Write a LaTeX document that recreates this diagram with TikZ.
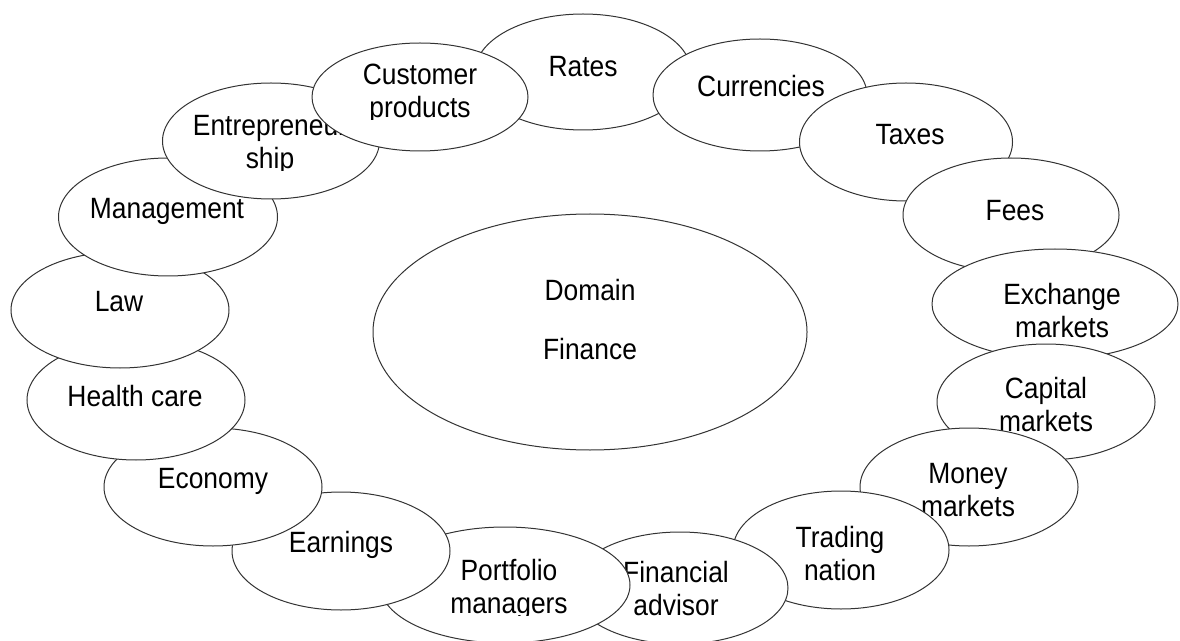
\documentclass[tikz,border=0pt]{standalone}
\usepackage{fontspec}
\setmainfont{Liberation Sans}[FakeStretch=0.9]
\usetikzlibrary{shapes.geometric}
\begin{document}
\begin{tikzpicture}[x=0.75pt,y=-0.75pt,
  oval/.style 2 args={ellipse, draw=black!80, line width=0.75pt, fill=white,
    inner sep=0pt, minimum width={#1*0.75pt}, minimum height={#2*0.75pt}},
  lbl/.style={align=center, inner sep=0pt, text=black,
    font=\fontsize{22pt}{24.75pt}\selectfont}]
\useasboundingbox (0,0) rectangle (1180,641);

% central topic
\node[oval={434}{236}] (domain) at (590,332) {};
\node[lbl] (domain-t) at (590,320) {Domain\\[19.5pt]Finance};

% ring of related topics, drawn clockwise so that each one lies over the one before
\node[oval={216}{116}] (rates) at (583,72) {};
\node[lbl] (rates-t) at (583,67) {Rates};

\node[oval={214}{112}] (curr) at (760,95) {};
\node[lbl] (curr-t) at (761,86) {Currencies};

\node[oval={213}{118}] (taxes) at (906,142) {};
\node[lbl] (taxes-t) at (910,135) {Taxes};

\node[oval={216}{114}] (fees) at (1011,215) {};
\node[lbl] (fees-t) at (1015,211) {Fees};

\node[oval={246}{110}] (exch) at (1055,304) {};
\node[lbl] (exch-t) at (1062,311) {Exchange\\markets};

\node[oval={218}{116}] (capital) at (1046,402) {};
\node[lbl] (capital-t) at (1046,405) {Capital\\markets};

\node[oval={218}{118}] (money) at (969,487) {};
\node[lbl] (money-t) at (968,490) {Money\\markets};

\node[oval={216}{118}] (trading) at (841,550) {};
\node[lbl] (trading-t) at (840,554) {Trading\\nation};

\node[oval={216}{112}] (advisor) at (680,588) {};
\node[lbl] (advisor-t) at (676,589) {Financial\\advisor};

\node[oval={250}{116}] (portfolio) at (505,585) {};
\begin{scope}
  \clip (380,520) rectangle (640,615);
  \node[lbl] (portfolio-t) at (509,589) {Portfolio\\managers};
\end{scope}

\node[oval={218}{118}] (earnings) at (341,551) {};
\node[lbl] (earnings-t) at (341,545) {Earnings};

\node[oval={218}{118}] (economy) at (213,487) {};
\node[lbl] (economy-t) at (213,481) {Economy};

\node[oval={218}{120}] (health) at (136,400) {};
\node[lbl] (health-t) at (135,396) {Health care};

\node[oval={218}{116}] (law) at (120,310) {};
\node[lbl] (law-t) at (119,302) {Law};

\node[oval={219}{118}] (mgmt) at (168,217) {};
\node[lbl] (mgmt-t) at (167,211) {Management};

\node[oval={217}{116}] (entre) at (271,141) {};
\begin{scope}
  \clip (170,90) rectangle (380,171);
  \node[lbl] (entre-t) at (270,145) {Entrepreneur\\ship};
\end{scope}

\node[oval={216}{108}] (cust) at (420,97) {};
\begin{scope}
  \clip (320,50) rectangle (525,120);
  \node[lbl] (cust-t) at (420,94) {Customer\\products};
\end{scope}
\end{tikzpicture}
\end{document}
